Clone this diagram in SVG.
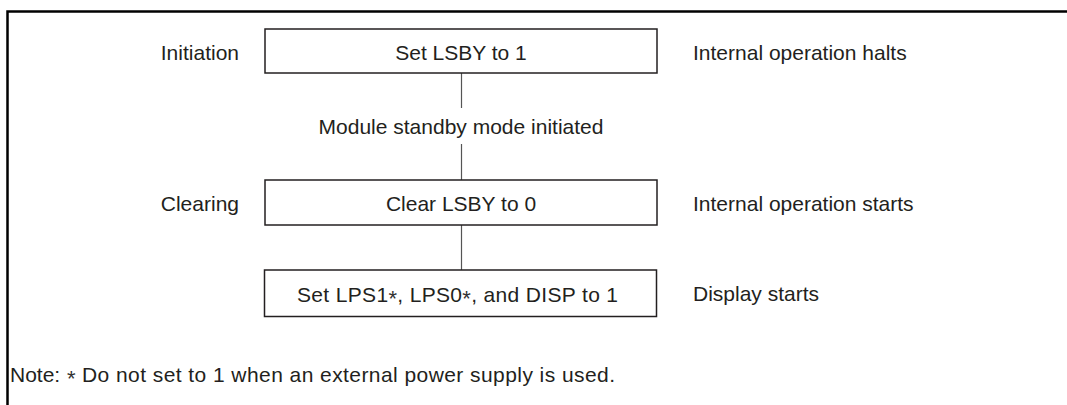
<svg xmlns="http://www.w3.org/2000/svg" width="1067" height="405" viewBox="0 0 1067 405">
<style>
text{font-family:"Liberation Sans",Arial,sans-serif;font-size:21px;fill:#231f20}
.box{fill:#fff;stroke:#231f20;stroke-width:1.5}
.conn{stroke:#555;stroke-width:1.2;fill:none}
.frame{stroke:#000;stroke-width:2.5;fill:none}
.mid{text-anchor:middle}
.end{text-anchor:end}
.ast{font-size:22px;fill:#333}
</style>
<rect width="1067" height="405" fill="#fff"/>
<path class="frame" d="M7.5 405 V11.5 H1067"/>
<g id="connectors">
<line class="conn" x1="461.5" y1="73" x2="461.5" y2="108"/>
<line class="conn" x1="461.5" y1="144" x2="461.5" y2="180"/>
<line class="conn" x1="461.5" y1="225" x2="461.5" y2="270"/>
</g>
<g id="node-set-lsby">
<rect class="box" x="265" y="29" width="392" height="44"/>
<text class="mid" x="461" y="60">Set LSBY to 1</text>
</g>
<g id="label-initiation"><text class="end" x="239" y="60">Initiation</text></g>
<g id="label-halts"><text x="693" y="60">Internal operation halts</text></g>
<g id="label-standby"><text class="mid" x="461" y="134">Module standby mode initiated</text></g>
<g id="node-clear-lsby">
<rect class="box" x="265" y="180" width="392" height="45"/>
<text class="mid" x="461" y="211">Clear LSBY to 0</text>
</g>
<g id="label-clearing"><text class="end" x="239" y="211">Clearing</text></g>
<g id="label-starts"><text x="693" y="211">Internal operation starts</text></g>
<g id="node-set-lps">
<rect class="box" x="264.5" y="270" width="392" height="46.5"/>
<text x="297" y="302" textLength="321" lengthAdjust="spacing">Set LPS1<tspan class="ast" dy="4">*</tspan><tspan dy="-4">, LPS0</tspan><tspan class="ast" dy="4">*</tspan><tspan dy="-4">, and DISP to 1</tspan></text>
</g>
<g id="label-display"><text x="693" y="301">Display starts</text></g>
<g id="note">
<text x="10" y="382">Note:</text>
<text class="ast" x="67" y="386">*</text>
<text x="82" y="382" textLength="533" lengthAdjust="spacing">Do not set to 1 when an external power supply is used.</text>
</g>
</svg>
